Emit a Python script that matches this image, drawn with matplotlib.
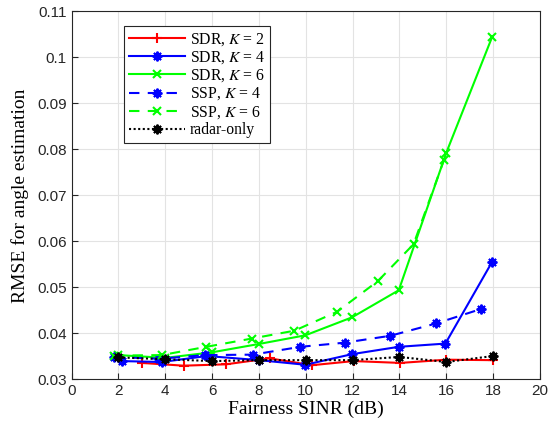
import matplotlib
matplotlib.use("Agg")
import matplotlib.pyplot as plt

plt.rcParams['mathtext.fontset'] = 'stix'

# SDR, K = 2
x_sdr2 = [3.0, 4.78, 6.6, 8.45, 10.26, 12.04, 14.04, 16.0, 18.0]
y_sdr2 = [0.0336, 0.0330, 0.0333, 0.0346, 0.0331, 0.0340, 0.0336, 0.0343, 0.0342]

# SDR, K = 4
x_sdr4 = [2.14, 3.85, 5.78, 8.01, 9.98, 11.97, 13.97, 15.96, 17.96]
y_sdr4 = [0.0340, 0.0338, 0.0351, 0.0342, 0.0332, 0.0355, 0.0371, 0.0378, 0.0556]

# SDR, K = 6
x_sdr6 = [2.0, 4.0, 5.99, 7.98, 9.98, 11.97, 13.97, 16.0, 17.96]
y_sdr6 = [0.0353, 0.0347, 0.0359, 0.0377, 0.0396, 0.0435, 0.0494, 0.0793, 0.1045]

# SSP, K = 4
x_ssp4 = [1.79, 3.75, 5.7, 7.74, 9.77, 11.66, 13.61, 15.58, 17.47]
y_ssp4 = [0.0349, 0.0345, 0.0353, 0.0354, 0.0371, 0.0380, 0.0395, 0.0422, 0.0453]

# SSP, K = 6
x_ssp6 = [1.8, 3.85, 5.75, 7.7, 9.51, 11.33, 13.08, 14.6, 15.9]
y_ssp6 = [0.0352, 0.0353, 0.0371, 0.0389, 0.0406, 0.0447, 0.0514, 0.0594, 0.0777]

# radar-only
x_radar = [2, 4, 6, 8, 10, 12, 14, 16, 18]
y_radar = [0.0348, 0.0344, 0.0340, 0.0342, 0.0342, 0.0342, 0.0349, 0.0338, 0.0351]

fig = plt.figure(figsize=(5.51, 4.24), dpi=100)
ax = fig.add_axes([0.130, 0.105, 0.850, 0.868])

lw = 1.5
ast = (8, 2, 0)  # matlab style asterisk
ax.plot(x_sdr2, y_sdr2, color='#ff0000', ls='-', marker='+', ms=7, mew=1.5, lw=lw, label=r'SDR, $K$ = 2')
ax.plot(x_sdr4, y_sdr4, color='#0000ff', ls='-', marker=ast, ms=7, mew=1.4, lw=lw, label=r'SDR, $K$ = 4')
ax.plot(x_sdr6, y_sdr6, color='#00ff00', ls='-', marker='x', ms=6, mew=1.5, lw=lw, label=r'SDR, $K$ = 6')
ax.plot(x_ssp4, y_ssp4, color='#0000ff', ls=(0, (5, 4)), marker=ast, ms=7, mew=1.4, lw=lw, label=r'SSP, $K$ = 4')
ax.plot(x_ssp6, y_ssp6, color='#00ff00', ls=(0, (5, 4)), marker='x', ms=6, mew=1.5, lw=lw, label=r'SSP, $K$ = 6')
ax.plot(x_radar, y_radar, color='black', ls=(0, (1, 1.2)), marker=ast, ms=7, mew=1.4, lw=lw, label='radar-only')

ax.set_xlim(0, 20)
ax.set_ylim(0.03, 0.11)
ax.set_xticks(range(0, 21, 2))
ax.set_yticks([0.03, 0.04, 0.05, 0.06, 0.07, 0.08, 0.09, 0.1, 0.11])
ax.set_yticklabels(['0.03', '0.04', '0.05', '0.06', '0.07', '0.08', '0.09', '0.1', '0.11'])
ax.grid(True, color='#e3e3e3', lw=0.8)
ax.set_axisbelow(True)
ax.tick_params(direction='in', length=4, colors='#262626', labelsize=11)
for lab in ax.get_xticklabels() + ax.get_yticklabels():
    lab.set_family('Liberation Sans')
for s in ax.spines.values():
    s.set_color('#262626')
    s.set_linewidth(0.8)

ax.set_xlabel('Fairness SINR (dB)', family='Liberation Serif', fontsize=14, labelpad=2)
ax.set_ylabel('RMSE for angle estimation', family='Liberation Serif', fontsize=14, labelpad=6)

leg = ax.legend(loc='upper left', bbox_to_anchor=(0.112, 0.96), borderaxespad=0,
                prop={'family': 'Liberation Serif', 'size': 11.3},
                fancybox=False, edgecolor='#262626', framealpha=1, handlelength=3.6, borderpad=0.3,
                labelspacing=0.1, handletextpad=0.3)
leg.get_frame().set_linewidth(0.8)

fig.savefig('out.png', dpi=100)
